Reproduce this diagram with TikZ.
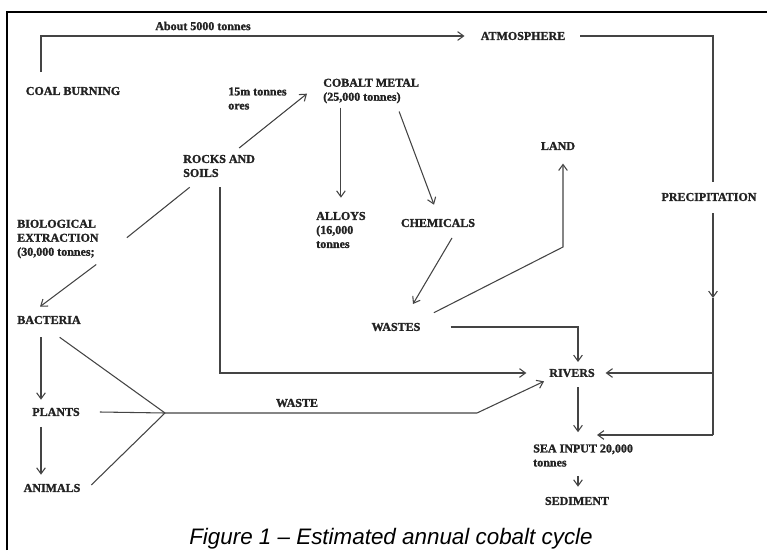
\documentclass[tikz,border=0pt]{standalone}
\usepackage{fontspec}
\setmainfont{Liberation Serif}[BoldFeatures={FakeBold=1.5}]
\setsansfont{Liberation Sans}
\usetikzlibrary{arrows.meta}
\definecolor{inkgray}{HTML}{444444}
\definecolor{textgray}{HTML}{222222}
\tikzset{line/.style={draw, inkgray, line width=0.8pt, -{Straight Barb[length=4.5pt,width=6.5pt]}}}
\tikzset{plain/.style={draw, inkgray, line width=0.8pt}}

\begin{document}
\begin{tikzpicture}[x=0.75pt, y=-0.75pt]
\tikzstyle{box} = [inner sep=0pt, text=textgray, font=\bfseries\fontsize{9}{10.5}\selectfont]
\tikzstyle{stack} = [box, align=left, anchor=west]

\useasboundingbox (0,0) rectangle (767,550);
\draw [line width=1pt] (7,550) -- (7,12) -- (767,12);

\node [box] (about) at (203,26) {About 5000 tonnes};
\node [box] (atmos) at (523,36) {ATMOSPHERE};
\node [box] (coal) at (73,91) {COAL BURNING};
\node [stack] (ores) at (228,98.5) {15m tonnes\\ores};
\node [stack] (cobalt) at (323,91) {COBALT METAL\\(25,000 tonnes)};
\node [stack] (rocks) at (183,166) {ROCKS AND\\SOILS};
\node [box] (land) at (558,146) {LAND};
\node [box] (precip) at (709,197) {PRECIPITATION};
\node [stack] (alloys) at (316,230) {ALLOYS\\(16,000\\tonnes};
\node [box] (chem) at (438,223) {CHEMICALS};
\node [stack] (bio) at (17,239) {BIOLOGICAL\\EXTRACTION\\(30,000 tonnes;};
\node [box] (bact) at (49,320) {BACTERIA};
\node [box] (wastes) at (396,327) {WASTES};
\node [box] (rivers) at (572,373) {RIVERS};
\node [box] (plants) at (56,412) {PLANTS};
\node [box] (animals) at (52,488) {ANIMALS};
\node [box] (wastelbl) at (297,403) {WASTE};
\node [stack] (sea) at (533,455.5) {SEA INPUT 20,000\\tonnes};
\node [box] (sed) at (577,501) {SEDIMENT};
\node [font=\sffamily\itshape\fontsize{16.8}{19}\selectfont] (caption) at (391,539) {Figure 1 -- Estimated annual cobalt cycle};

% bends and junctions
\coordinate (cbend) at (41,36);
\coordinate (pline) at (713,34);
\coordinate (pmid) at (713,298);
\coordinate (pbot) at (713,435);
\coordinate (seatip) at (597,435);
\coordinate (lbend) at (563,247);
\coordinate (rcol) at (578,373);
\coordinate (rleft) at (220,373);
\coordinate (junc) at (165,413);
\coordinate (wbend) at (477,413);

\path [line] ([yshift=11pt]coal.north -| cbend) |- ([xshift=-12pt]atmos.west);
\path [plain] ([xshift=11pt]atmos.east) -| ([yshift=8pt]precip.north -| pline);
\path [line] ([yshift=-9pt]precip.south -| pline) -- (pmid);
\path [plain] (pmid) -- (pbot);
\path [line] (rivers.east -| pline) -- ([xshift=8pt]rivers.east);
\path [line] (pbot) -- (seatip);
\path [line] ([xshift=15pt,yshift=5pt]rocks.north) -- ([xshift=-12pt,yshift=-2pt]cobalt.west);
\path [line, shorten <=3pt] (cobalt.south -| alloys.north) -- ([yshift=10.5pt]alloys.north);
\path [line] ([xshift=21pt,yshift=-6pt]cobalt.south) -- ([xshift=-3pt,yshift=10.5pt]chem.north);
\path [line] ([xshift=10.5pt,yshift=-8pt]chem.south) -- ([xshift=12.75pt,yshift=14pt]wastes.north);
\path [line] ([xshift=10pt,yshift=7.5pt]wastes.north east) -- (lbend) -- ([yshift=-10pt]land.south -| lbend);
\path [line] ([xshift=22.5pt]wastes.east) -| ([yshift=5pt]rivers.north -| rcol);
\path [line] ([yshift=-7.5pt]rocks.south -| rleft) |- ([xshift=-17pt]rivers.west);
\path [plain] ([xshift=5pt,yshift=-7.5pt]rocks.south west) -- ([xshift=21pt,yshift=1pt]bio.east);
\path [line] ([xshift=-2pt,yshift=-4.5pt]bio.south east) -- ([xshift=-6.75pt,yshift=6.75pt]bact.north);
\path [line] ([yshift=-9.75pt]bact.south -| cbend) -- ([yshift=6pt]plants.north -| cbend);
\path [line] ([yshift=-8pt]plants.south -| cbend) -- ([yshift=6.75pt]animals.north -| cbend);
\path [plain] ([xshift=8pt,yshift=-9.75pt]bact.south) -- (junc);
\path [plain] ([xshift=15pt]plants.east) -- (junc);
\path [plain] ([xshift=8pt,yshift=2.25pt]animals.east) -- (junc);
\path [line] (junc) -- (wbend) -- ([xshift=-3.75pt,yshift=-3pt]rivers.south west);
\path [line] ([yshift=-7.5pt]rivers.south -| rcol) -- ([yshift=9pt]sea.north -| rcol);
\path [line] ([yshift=-6.75pt]sea.south -| rcol) -- ([yshift=7.5pt]sed.north -| rcol);

\end{tikzpicture}
\end{document}
